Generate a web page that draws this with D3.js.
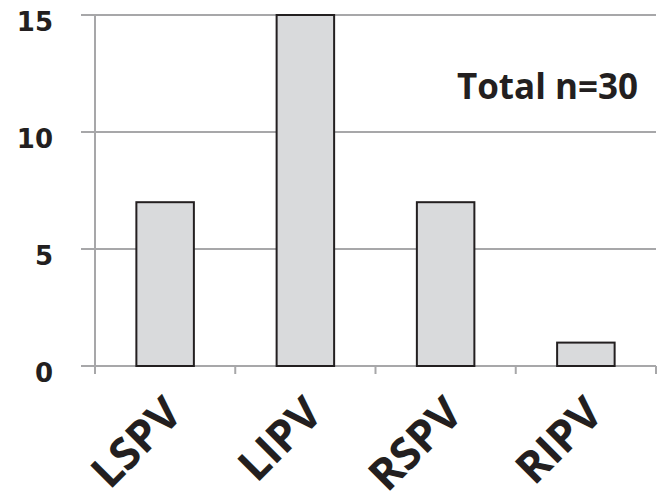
<!DOCTYPE html>
<html><head><meta charset="utf-8">
<script src="https://cdn.jsdelivr.net/npm/d3@7"></script>
<style>body{margin:0;background:#fff}</style>
</head><body>
<svg id="c" width="660" height="492"></svg>
<script>
const categories = ["LSPV", "LIPV", "RSPV", "RIPV"];
const values = [7, 15, 7, 1];
const yTicks = [0, 5, 10, 15];
const annotation = "Total n=30";

const svg = d3.select("#c");
const x = d3.scaleBand().domain(categories).range([95, 656]).paddingInner(0.59).paddingOuter(0.295);
const y = d3.scaleLinear().domain([0, 15]).range([366, 15]);

// gridlines
svg.append("g").selectAll("line").data(yTicks).join("line")
  .attr("x1", 81).attr("x2", 656)
  .attr("y1", d => y(d)).attr("y2", d => y(d))
  .attr("stroke", "#a7a7a9").attr("stroke-width", 2);

// y axis line
svg.append("line").attr("x1", 95).attr("x2", 95).attr("y1", y(15)).attr("y2", y(0))
  .attr("stroke", "#a7a7a9").attr("stroke-width", 2);

// x axis ticks
const step = x.step();
const xTickPos = d3.range(categories.length + 1).map(i => 95 + i * step);
svg.append("g").selectAll("line").data(xTickPos).join("line")
  .attr("x1", d => d).attr("x2", d => d).attr("y1", y(0)).attr("y2", y(0) + 8)
  .attr("stroke", "#a7a7a9").attr("stroke-width", 2);

// bars
svg.append("g").selectAll("rect").data(values).join("rect")
  .attr("x", (d, i) => x(categories[i]))
  .attr("width", x.bandwidth())
  .attr("y", d => y(d))
  .attr("height", d => y(0) - y(d))
  .attr("fill", "#d9dadc").attr("stroke", "#231f20").attr("stroke-width", 2);

// y labels
svg.append("g").selectAll("text").data(yTicks).join("text")
  .attr("x", 53).attr("y", d => y(d) + 8)
  .attr("text-anchor", "end").attr("dominant-baseline", "middle")
  .attr("font-family", "DejaVu Sans").attr("font-weight", "bold").attr("font-size", 26)
  .attr("fill", "#231f20").text(d => d);

// x labels
svg.append("g").selectAll("text").data(categories).join("text")
  .attr("transform", d => `translate(${x(d) + x.bandwidth() / 2 + 19},${y(0) + 50}) rotate(-45)`)
  .attr("text-anchor", "end")
  .attr("font-family", "Open Sans").attr("font-weight", "bold").attr("font-size", 44)
  .attr("fill", "#231f20").text(d => d);

// annotation
svg.append("text").attr("x", 638).attr("y", 99).attr("text-anchor", "end")
  .attr("font-family", "Open Sans").attr("font-weight", "bold").attr("font-size", 35)
  .attr("fill", "#231f20").text(annotation);
</script>
</body></html>
